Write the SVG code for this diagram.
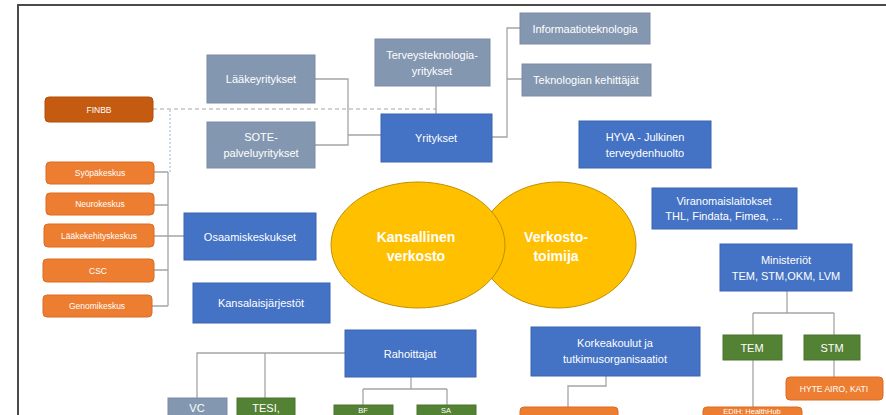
<svg xmlns="http://www.w3.org/2000/svg" width="886" height="415" viewBox="0 0 886 415">
<style>
text{font-family:"Liberation Sans","Open Sans",sans-serif;fill:#fff;text-anchor:middle;dominant-baseline:central}
.b{fill:#4472C4;stroke:#3a64b0;stroke-width:1}
.g{fill:#8497B0;stroke:#7a8ca4;stroke-width:1}
.o{fill:#ED7D31;stroke:#d96c22;stroke-width:1}
.d{fill:#C55A11;stroke:#b04e0c;stroke-width:1}
.gr{fill:#548235;stroke:#4a752e;stroke-width:1}
.t{font-size:11px}
.s{font-size:8.5px}
.x{font-size:7.5px}
.e{fill:#FFC000;stroke:#BF9000;stroke-width:1}
.et{font-size:14px;font-weight:bold}
.c{fill:none;stroke:#A5A5A5;stroke-width:1.3}
</style>
<rect x="0" y="0" width="886" height="415" fill="#fff"/>
<path d="M18,415 V5 H886" fill="none" stroke="#4a4a4a" stroke-width="2"/>
<g id="connectors">
<path class="c" d="M315,79 H348 V145 H315 M348,135 H381"/>
<path class="c" d="M436,86 V114"/>
<path class="c" d="M492,137 H507 V28 H520 M507,79 H522"/>
<path d="M153,109 H436" fill="none" stroke="#A5A5A5" stroke-width="1.2" stroke-dasharray="4,3"/>
<path d="M170,110 V172" fill="none" stroke="#9DC3E6" stroke-width="1.2" stroke-dasharray="2,2"/>
<path class="c" d="M154,172 H168 M154,205 H168 M154,236 H184 M154,270 H168 M152,306 H168 M168,172 V306"/>
<path class="c" d="M345,353 H197 V398 M265,353 V398"/>
<path class="c" d="M411,377 V389 M363,389 H447 M363,389 V405 M447,389 V405"/>
<path class="c" d="M606,376 V386 H568 V407"/>
<path class="c" d="M787,291 V313 M753,313 H834 M753,313 V335 M834,313 V335"/>
<path class="c" d="M753,360 V407 M834,360 V377"/>
</g>
<g id="finbb"><rect class="d" x="45" y="97" width="108" height="25" rx="4"/><text class="s" x="99" y="109.5">FINBB</text></g>
<g id="laake"><rect class="g" x="207" y="55" width="108" height="48"/><text class="t" x="261" y="79">Lääkeyritykset</text></g>
<g id="sote"><rect class="g" x="207" y="122" width="108" height="46"/><text class="t" x="261" y="137">SOTE-</text><text class="t" x="261" y="153">palveluyritykset</text></g>
<g id="terveys"><rect class="g" x="375" y="39" width="115" height="47"/><text class="t" x="432" y="55">Terveysteknologia-</text><text class="t" x="432" y="71">yritykset</text></g>
<g id="yritykset"><rect class="b" x="381" y="114" width="111" height="48"/><text class="t" x="436" y="138">Yritykset</text></g>
<g id="info"><rect class="g" x="520" y="13" width="130" height="31"/><text class="t" x="585" y="28.5">Informaatioteknologia</text></g>
<g id="tekno"><rect class="g" x="522" y="64" width="129" height="32"/><text class="t" x="586" y="80">Teknologian kehittäjät</text></g>
<g id="hyva"><rect class="b" x="579" y="121" width="132" height="47"/><text class="t" x="645" y="137">HYVA - Julkinen</text><text class="t" x="645" y="153">terveydenhuolto</text></g>
<g id="viranomais"><rect class="b" x="652" y="188" width="145" height="41"/><text class="t" x="724" y="201">Viranomaislaitokset</text><text class="t" x="724" y="216">THL, Findata, Fimea, …</text></g>
<g id="ministeriot"><rect class="b" x="720" y="244" width="132" height="47"/><text class="t" x="786" y="260">Ministeriöt</text><text class="t" x="786" y="276">TEM, STM,OKM, LVM</text></g>
<g id="syopa"><rect class="o" x="46" y="162" width="108" height="22" rx="4"/><text class="s" x="100" y="173">Syöpäkeskus</text></g>
<g id="neuro"><rect class="o" x="46" y="193" width="108" height="22" rx="4"/><text class="s" x="100" y="204">Neurokeskus</text></g>
<g id="laakekehitys"><rect class="o" x="44" y="224" width="110" height="23" rx="4"/><text class="s" x="99" y="235.5">Lääkekehityskeskus</text></g>
<g id="csc"><rect class="o" x="43" y="259" width="111" height="23" rx="4"/><text class="s" x="98" y="270.5">CSC</text></g>
<g id="genomi"><rect class="o" x="43" y="295" width="109" height="22" rx="4"/><text class="s" x="97" y="306">Genomikeskus</text></g>
<g id="osaamis"><rect class="b" x="184" y="213" width="132" height="47"/><text class="t" x="250" y="236.5">Osaamiskeskukset</text></g>
<g id="kansalais"><rect class="b" x="193" y="283" width="137" height="40"/><text class="t" x="261" y="303">Kansalaisjärjestöt</text></g>
<g id="verkostotoimija"><ellipse class="e" cx="558" cy="245" rx="78" ry="63"/><text class="et" x="556" y="237">Verkosto-</text><text class="et" x="556" y="256">toimija</text></g>
<g id="kansallinen"><ellipse class="e" cx="418" cy="245" rx="87" ry="63"/><text class="et" x="416" y="237">Kansallinen</text><text class="et" x="416" y="256">verkosto</text></g>
<g id="rahoittajat"><rect class="b" x="345" y="330" width="131" height="47"/><text class="t" x="410" y="353.5">Rahoittajat</text></g>
<g id="korkeakoulut"><rect class="b" x="531" y="327" width="169" height="49"/><text class="t" x="615" y="343">Korkeakoulut ja</text><text class="t" x="615" y="359">tutkimusorganisaatiot</text></g>
<g id="tem"><rect class="gr" x="723" y="335" width="59" height="25"/><text class="t" x="752" y="347.5">TEM</text></g>
<g id="stm"><rect class="gr" x="804" y="335" width="56" height="25"/><text class="t" x="832" y="347.5">STM</text></g>
<g id="hyte"><rect class="o" x="786" y="377" width="97" height="23" rx="4"/><text class="s" x="834" y="388.5">HYTE AIRO, KATI</text></g>
<g id="vc"><rect class="g" x="168" y="398" width="59" height="25"/><text class="t" x="197" y="408">VC</text></g>
<g id="tesi"><rect class="gr" x="237" y="398" width="58" height="25"/><text class="t" x="266" y="408">TESI,</text></g>
<g id="bf"><rect class="gr" x="334" y="405" width="59" height="20"/><text class="x" x="363" y="410.5">BF</text></g>
<g id="sa"><rect class="gr" x="417" y="405" width="59" height="20"/><text class="x" x="446" y="410.5">SA</text></g>
<g id="korkea-child"><rect class="o" x="520" y="407" width="98" height="20" rx="4"/></g>
<g id="edih"><rect class="o" x="703" y="407" width="99" height="20" rx="4"/><text class="x" x="752" y="411.5">EDIH: HealthHub</text></g>
</svg>
